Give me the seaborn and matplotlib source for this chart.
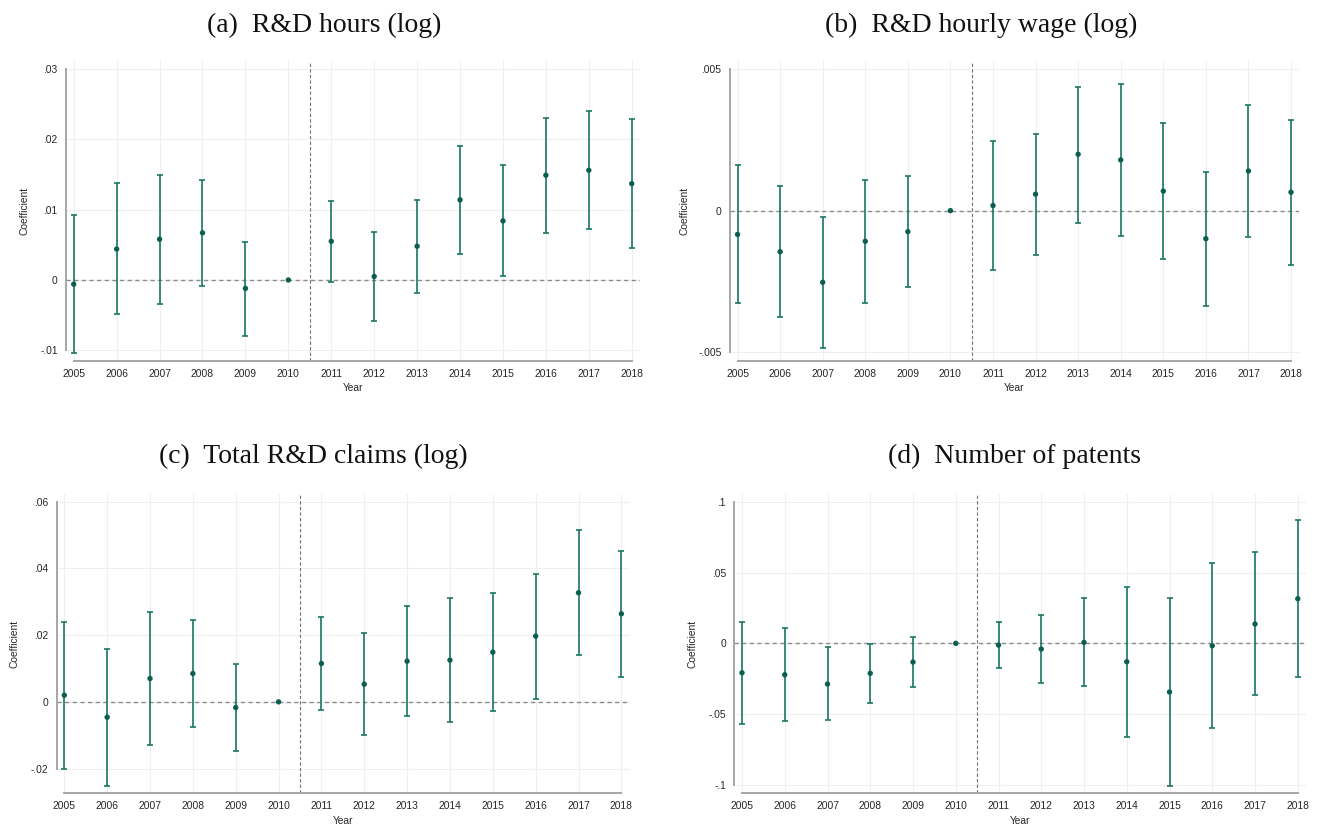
import matplotlib
matplotlib.use("Agg")
import numpy as np
import pandas as pd
import matplotlib.pyplot as plt
import seaborn as sns

years = [2005, 2006, 2007, 2008, 2009, 2010, 2011, 2012, 2013, 2014, 2015, 2016, 2017, 2018]

# (a) R&D hours (log)
hours_coef = [-0.0006, 0.0044, 0.0058, 0.0067, -0.0012, 0.0, 0.0055, 0.0005, 0.0048, 0.0114, 0.0084, 0.0149, 0.0156, 0.0137]
hours_hi = [0.0092, 0.0138, 0.0150, 0.0142, 0.0054, 0.0, 0.0113, 0.0068, 0.0114, 0.0190, 0.0163, 0.0231, 0.0241, 0.0229]
hours_lo = [-0.0104, -0.0049, -0.0034, -0.0008, -0.0079, 0.0, -0.0003, -0.0058, -0.0018, 0.0037, 0.0005, 0.0067, 0.0072, 0.0046]
hours_ticks = [-0.01, 0.0, 0.01, 0.02, 0.03]
hours_labels = ["-.01", "0", ".01", ".02", ".03"]

# (b) R&D hourly wage (log)
wage_coef = [-0.00084, -0.00145, -0.00253, -0.00108, -0.00074, 0.0, 0.00018, 0.00058, 0.00199, 0.00179, 0.00069, -0.00099, 0.00140, 0.00065]
wage_hi = [0.00161, 0.00086, -0.00022, 0.00109, 0.00122, 0.0, 0.00245, 0.00272, 0.00438, 0.00447, 0.00308, 0.00136, 0.00373, 0.00319]
wage_lo = [-0.00327, -0.00376, -0.00484, -0.00327, -0.00271, 0.0, -0.00209, -0.00158, -0.00042, -0.00091, -0.00169, -0.00335, -0.00094, -0.00192]
wage_ticks = [-0.005, 0.0, 0.005]
wage_labels = ["-.005", "0", ".005"]

# (c) Total R&D claims (log)
claims_coef = [0.0020, -0.0046, 0.0070, 0.0085, -0.0017, 0.0, 0.0115, 0.0053, 0.0122, 0.0125, 0.0149, 0.0197, 0.0327, 0.0264]
claims_hi = [0.0240, 0.0159, 0.0268, 0.0244, 0.0114, 0.0, 0.0253, 0.0205, 0.0288, 0.0311, 0.0326, 0.0383, 0.0514, 0.0453]
claims_lo = [-0.0200, -0.0252, -0.0128, -0.0074, -0.0147, 0.0, -0.0023, -0.0098, -0.0042, -0.0060, -0.0026, 0.0010, 0.0141, 0.0076]
claims_ticks = [-0.02, 0.0, 0.02, 0.04, 0.06]
claims_labels = ["-.02", "0", ".02", ".04", ".06"]

# (d) Number of patents
patents_coef = [-0.0208, -0.0222, -0.0288, -0.0212, -0.0132, 0.0, -0.0012, -0.0040, 0.0007, -0.0130, -0.0344, -0.0017, 0.0137, 0.0316]
patents_hi = [0.0153, 0.0106, -0.0028, -0.0002, 0.0045, 0.0, 0.0151, 0.0203, 0.0318, 0.0401, 0.0318, 0.0566, 0.0649, 0.0870]
patents_lo = [-0.0568, -0.0547, -0.0545, -0.0422, -0.0307, 0.0, -0.0175, -0.0283, -0.0302, -0.0660, -0.1007, -0.0599, -0.0368, -0.0236]
patents_ticks = [-0.1, -0.05, 0.0, 0.05, 0.1]
patents_labels = ["-.1", "-.05", "0", ".05", ".1"]

titles = ["(a)  R&D hours (log)", "(b)  R&D hourly wage (log)",
          "(c)  Total R&D claims (log)", "(d)  Number of patents"]

sns.set_theme(style="whitegrid")
plt.rcParams["font.family"] = ["Liberation Sans", "DejaVu Sans"]

W, H = 1323, 831
fig = plt.figure(figsize=(W / 100, H / 100), dpi=100)

bar_col = "#1a7666"
dot_col = "#0a5f50"

# pixel boxes: left, right, top, bottom
boxes = [(66.0, 639.9, 61, 361), (729.9, 1299.1, 61, 361),
         (56.6, 629.5, 494, 793.3), (734.3, 1305.9, 494, 793.3)]
ylims = [(-0.01152, 0.03114), (-0.005307, 0.005282), (-0.0274, 0.0623), (-0.1061, 0.1057)]
ylab_x = [24, 684, 14, 693]
xlab_y = [388, 388, 821, 821]
title_pos = [(324, 32), (981, 32), (313, 463), (1014, 463)]

series = [
    (hours_coef, hours_lo, hours_hi, hours_ticks, hours_labels),
    (wage_coef, wage_lo, wage_hi, wage_ticks, wage_labels),
    (claims_coef, claims_lo, claims_hi, claims_ticks, claims_labels),
    (patents_coef, patents_lo, patents_hi, patents_ticks, patents_labels),
]

for i, (coef, lo, hi, yt, yl) in enumerate(series):
    l, r, t, b = boxes[i]
    ax = fig.add_axes([l / W, 1 - b / H, (r - l) / W, (b - t) / H])
    df = pd.DataFrame({"year": years, "coef": coef, "lo": lo, "hi": hi})
    ci = df[df["hi"] > df["lo"]]

    ax.axhline(0, color="#8a8a8a", lw=1.0, ls=(0, (3, 2.5)), zorder=1)
    ax.axvline(2010.5, color="#707070", lw=0.8, ls=(0, (3, 2)), zorder=1)
    ax.errorbar(ci["year"], ci["coef"],
                yerr=[ci["coef"] - ci["lo"], ci["hi"] - ci["coef"]],
                fmt="none", ecolor=bar_col, elinewidth=1.2,
                capsize=2.4, capthick=1.2, zorder=2)
    sns.scatterplot(data=df, x="year", y="coef", color=dot_col, s=15,
                    edgecolor="none", zorder=3, ax=ax)

    ax.set_xlim(2004.82, 2018.19)
    ax.set_ylim(*ylims[i])
    ax.set_xticks(years)
    ax.set_xticklabels([str(y) for y in years])
    ax.set_yticks(yt)
    ax.set_yticklabels(yl)
    ax.grid(True, color="#efefef", lw=0.8)
    ax.set_axisbelow(True)
    ax.tick_params(axis="both", labelsize=7.4, colors="#999999",
                   labelcolor="#262626", length=3, width=1, pad=2.5)
    ax.tick_params(axis="y", pad=3)
    for s in ["left", "bottom"]:
        ax.spines[s].set_color("#a6a6a6")
        ax.spines[s].set_linewidth(1.4)
    sns.despine(ax=ax, trim=True)

    ax.set_xlabel("Year", fontsize=7.4, color="#262626")
    ax.set_ylabel("Coefficient", fontsize=7.4, color="#262626")
    ax.xaxis.set_label_coords(0.5, (b - xlab_y[i]) / (b - t), transform=ax.transAxes)
    ax.xaxis.label.set_va("center")
    ax.yaxis.set_label_coords((ylab_x[i] - l) / (r - l), 0.5, transform=ax.transAxes)
    ax.yaxis.label.set_va("center")

    tx, ty = title_pos[i]
    fig.text(tx / W, 1 - ty / H, titles[i], ha="center", va="baseline",
             fontsize=20, family=["Liberation Serif", "DejaVu Serif"], color="#111111")

fig.savefig("out.png", dpi=100, facecolor="white")
